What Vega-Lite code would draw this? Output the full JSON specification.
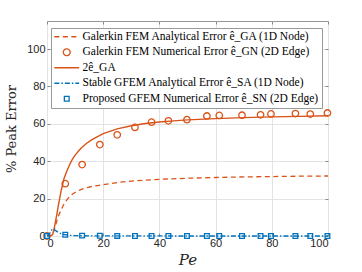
{
  "$schema": "https://vega.github.io/schema/vega-lite/v6.json",
  "width": 281,
  "height": 215,
  "autosize": {"type": "none"},
  "padding": {"left": 47, "top": 21, "right": 34, "bottom": 36},
  "background": "white",
  "config": {
    "view": {"stroke": "#999999", "strokeWidth": 1},
    "axis": {
      "labelFont": "Liberation Sans",
      "labelFontSize": 11,
      "labelColor": "#262626",
      "tickColor": "#888888",
      "tickSize": -3,
      "domain": false,
      "gridColor": "#e3e3e3",
      "titleFont": "DejaVu Serif",
      "titleFontWeight": "normal",
      "titleColor": "#262626"
    }
  },
  "data": {
    "values": [
      {"series": "a", "pe": 0, "val": 0},
      {"series": "a", "pe": 1, "val": 0},
      {"series": "a", "pe": 1.5, "val": 0.1},
      {"series": "a", "pe": 2, "val": 0.5},
      {"series": "a", "pe": 2.5, "val": 3},
      {"series": "a", "pe": 3, "val": 5.5},
      {"series": "a", "pe": 3.5, "val": 8},
      {"series": "a", "pe": 4, "val": 10.5},
      {"series": "a", "pe": 5, "val": 14},
      {"series": "a", "pe": 6, "val": 17},
      {"series": "a", "pe": 7, "val": 19.2},
      {"series": "a", "pe": 8, "val": 21},
      {"series": "a", "pe": 9, "val": 22.3},
      {"series": "a", "pe": 10, "val": 23.3},
      {"series": "a", "pe": 12, "val": 24.8},
      {"series": "a", "pe": 14, "val": 25.8},
      {"series": "a", "pe": 16, "val": 26.5},
      {"series": "a", "pe": 18, "val": 27},
      {"series": "a", "pe": 20, "val": 27.5},
      {"series": "a", "pe": 25, "val": 28.6},
      {"series": "a", "pe": 30, "val": 29.4},
      {"series": "a", "pe": 35, "val": 29.9},
      {"series": "a", "pe": 40, "val": 30.3},
      {"series": "a", "pe": 50, "val": 30.9},
      {"series": "a", "pe": 60, "val": 31.3},
      {"series": "a", "pe": 70, "val": 31.6},
      {"series": "a", "pe": 80, "val": 31.8},
      {"series": "a", "pe": 90, "val": 32},
      {"series": "a", "pe": 100, "val": 32.1},

      {"series": "b", "pe": 0, "val": 0},
      {"series": "b", "pe": 6.5, "val": 28},
      {"series": "b", "pe": 12.5, "val": 38.2},
      {"series": "b", "pe": 18.8, "val": 48.9},
      {"series": "b", "pe": 25, "val": 54.1},
      {"series": "b", "pe": 31.3, "val": 58.1},
      {"series": "b", "pe": 37.2, "val": 60.9},
      {"series": "b", "pe": 43.2, "val": 61.6},
      {"series": "b", "pe": 49.8, "val": 62.2},
      {"series": "b", "pe": 56.9, "val": 64.2},
      {"series": "b", "pe": 61.3, "val": 64.5},
      {"series": "b", "pe": 69.4, "val": 64.6},
      {"series": "b", "pe": 76, "val": 64.8},
      {"series": "b", "pe": 79.7, "val": 65.3},
      {"series": "b", "pe": 88.4, "val": 65.5},
      {"series": "b", "pe": 93.7, "val": 65.2},
      {"series": "b", "pe": 99.8, "val": 65.8},

      {"series": "c", "pe": 0, "val": 0},
      {"series": "c", "pe": 1, "val": 0},
      {"series": "c", "pe": 1.5, "val": 0.2},
      {"series": "c", "pe": 2, "val": 0.8},
      {"series": "c", "pe": 2.5, "val": 3.5},
      {"series": "c", "pe": 3, "val": 7.5},
      {"series": "c", "pe": 3.5, "val": 11.5},
      {"series": "c", "pe": 4, "val": 16},
      {"series": "c", "pe": 4.5, "val": 20},
      {"series": "c", "pe": 5, "val": 24},
      {"series": "c", "pe": 5.5, "val": 27},
      {"series": "c", "pe": 6, "val": 30.5},
      {"series": "c", "pe": 7, "val": 34.5},
      {"series": "c", "pe": 8, "val": 38},
      {"series": "c", "pe": 9, "val": 41},
      {"series": "c", "pe": 10, "val": 43.3},
      {"series": "c", "pe": 12, "val": 46.8},
      {"series": "c", "pe": 14, "val": 49.5},
      {"series": "c", "pe": 16, "val": 51.5},
      {"series": "c", "pe": 18, "val": 53.2},
      {"series": "c", "pe": 20, "val": 54.8},
      {"series": "c", "pe": 25, "val": 57.3},
      {"series": "c", "pe": 30, "val": 59},
      {"series": "c", "pe": 35, "val": 60.2},
      {"series": "c", "pe": 40, "val": 61},
      {"series": "c", "pe": 45, "val": 61.6},
      {"series": "c", "pe": 50, "val": 62.1},
      {"series": "c", "pe": 60, "val": 62.8},
      {"series": "c", "pe": 70, "val": 63.3},
      {"series": "c", "pe": 80, "val": 63.7},
      {"series": "c", "pe": 90, "val": 64},
      {"series": "c", "pe": 100, "val": 64.3},

      {"series": "d", "pe": 0, "val": 0},
      {"series": "d", "pe": 0.5, "val": 0.5},
      {"series": "d", "pe": 1, "val": 1.5},
      {"series": "d", "pe": 1.5, "val": 2.8},
      {"series": "d", "pe": 2, "val": 3.8},
      {"series": "d", "pe": 2.5, "val": 3.6},
      {"series": "d", "pe": 3, "val": 3},
      {"series": "d", "pe": 4, "val": 2},
      {"series": "d", "pe": 5, "val": 1.3},
      {"series": "d", "pe": 6, "val": 0.8},
      {"series": "d", "pe": 8, "val": 0.4},
      {"series": "d", "pe": 10, "val": 0.2},
      {"series": "d", "pe": 15, "val": 0.08},
      {"series": "d", "pe": 20, "val": 0.04},
      {"series": "d", "pe": 30, "val": 0.02},
      {"series": "d", "pe": 50, "val": 0.01},
      {"series": "d", "pe": 100, "val": 0},

      {"series": "e", "pe": 0, "val": 0},
      {"series": "e", "pe": 6.5, "val": 0.7},
      {"series": "e", "pe": 12.5, "val": 0.2},
      {"series": "e", "pe": 18.8, "val": 0.1},
      {"series": "e", "pe": 25, "val": 0.05},
      {"series": "e", "pe": 31.3, "val": 0.03},
      {"series": "e", "pe": 37.2, "val": 0.02},
      {"series": "e", "pe": 43.2, "val": 0.02},
      {"series": "e", "pe": 49.8, "val": 0.01},
      {"series": "e", "pe": 56.9, "val": 0.01},
      {"series": "e", "pe": 61.3, "val": 0.01},
      {"series": "e", "pe": 69.4, "val": 0.01},
      {"series": "e", "pe": 76, "val": 0.01},
      {"series": "e", "pe": 79.7, "val": 0.01},
      {"series": "e", "pe": 88.4, "val": 0.01},
      {"series": "e", "pe": 93.7, "val": 0.01},
      {"series": "e", "pe": 99.8, "val": 0.01}
    ]
  },
  "resolve": {"axis": {"x": "independent", "y": "independent"}},
  "layer": [
    {
      "transform": [{"filter": "datum.series === 'a'"}],
      "mark": {"type": "line", "strokeDash": [5, 3.5], "strokeWidth": 1.3, "clip": true},
      "encoding": {
        "x": {"field": "pe", "type": "quantitative", "scale": {"domain": [0, 100], "nice": false},
              "axis": {"values": [0, 20, 40, 60, 80, 100], "title": "Pe", "titleFontStyle": "italic", "titleFontSize": 15, "labelPadding": 4, "titlePadding": 4, "grid": true}},
        "y": {"field": "val", "type": "quantitative", "scale": {"domain": [0, 115], "nice": false},
              "axis": {"values": [0, 20, 40, 60, 80, 100], "title": "% Peak Error", "titleFontSize": 13, "labelPadding": 5, "titlePadding": 8, "grid": true}},
        "color": {
          "field": "series", "type": "nominal",
          "scale": {"domain": ["a", "b", "c", "d", "e"], "range": ["#D95319", "#D95319", "#D95319", "#0072BD", "#0072BD"]},
          "legend": {
            "orient": "none", "legendX": 4, "legendY": 7,
            "title": null, "padding": 3,
            "strokeColor": "#999999", "fillColor": "white", "cornerRadius": 0,
            "labelFont": "Liberation Serif", "labelFontSize": 11.5, "labelColor": "black", "labelLimit": 0,
            "symbolSize": 64, "symbolStrokeWidth": 1.3, "rowPadding": 2.5,
            "symbolOffset": 7, "labelOffset": 10,
            "labelExpr": "datum.value === 'a' ? 'Galerkin FEM Analytical Error ê_GA (1D Node)' : datum.value === 'b' ? 'Galerkin FEM Numerical Error ê_GN (2D Edge)' : datum.value === 'c' ? '2ê_GA' : datum.value === 'd' ? 'Stable GFEM Analytical Error ê_SA (1D Node)' : 'Proposed GFEM Numerical Error ê_SN (2D Edge)'",
            "encode": {
              "symbols": {
                "update": {
                  "shape": {"signal": "datum.value === 'b' ? 'M-0.85,0A0.85,0.85 0 1,0 0.85,0A0.85,0.85 0 1,0 -0.85,0Z' : datum.value === 'e' ? 'M-0.6,-0.6H0.6V0.6H-0.6Z' : 'M-3.1,0H3.1'"},
                  "strokeDash": {"signal": "datum.value === 'a' ? [5, 3.5] : datum.value === 'd' ? [5, 2, 1.5, 2] : [1, 0]"},
                  "stroke": {"signal": "datum.value === 'd' || datum.value === 'e' ? '#0072BD' : '#D95319'"},
                  "fill": {"value": "transparent"},
                  "strokeWidth": {"value": 1.3},
                  "opacity": {"value": 1}
                }
              }
            }
          }
        }
      }
    },
    {
      "transform": [{"filter": "datum.series === 'b'"}],
      "mark": {"type": "point", "shape": "circle", "filled": false, "size": 42, "strokeWidth": 1.3, "opacity": 1},
      "encoding": {
        "x": {"field": "pe", "type": "quantitative", "axis": {"values": [0, 20, 40, 60, 80, 100], "labels": false, "title": null, "grid": false}},
        "y": {"field": "val", "type": "quantitative", "axis": {"values": [0, 20, 40, 60, 80, 100], "labels": false, "title": null, "grid": false}},
        "color": {"field": "series", "type": "nominal"}
      }
    },
    {
      "transform": [{"filter": "datum.series === 'c'"}],
      "mark": {"type": "line", "strokeWidth": 1.4},
      "encoding": {
        "x": {"field": "pe", "type": "quantitative", "axis": null},
        "y": {"field": "val", "type": "quantitative", "axis": null},
        "color": {"field": "series", "type": "nominal"}
      }
    },
    {
      "transform": [{"filter": "datum.series === 'd'"}],
      "mark": {"type": "line", "strokeWidth": 1.3, "strokeDash": [5, 2, 1.5, 2]},
      "encoding": {
        "x": {"field": "pe", "type": "quantitative", "axis": null},
        "y": {"field": "val", "type": "quantitative", "axis": null},
        "color": {"field": "series", "type": "nominal"}
      }
    },
    {
      "transform": [{"filter": "datum.series === 'e'"}],
      "mark": {"type": "point", "shape": "square", "filled": false, "size": 22, "strokeWidth": 1.3, "opacity": 1},
      "encoding": {
        "x": {"field": "pe", "type": "quantitative", "axis": null},
        "y": {"field": "val", "type": "quantitative", "axis": null},
        "color": {"field": "series", "type": "nominal"}
      }
    }
  ]
}
